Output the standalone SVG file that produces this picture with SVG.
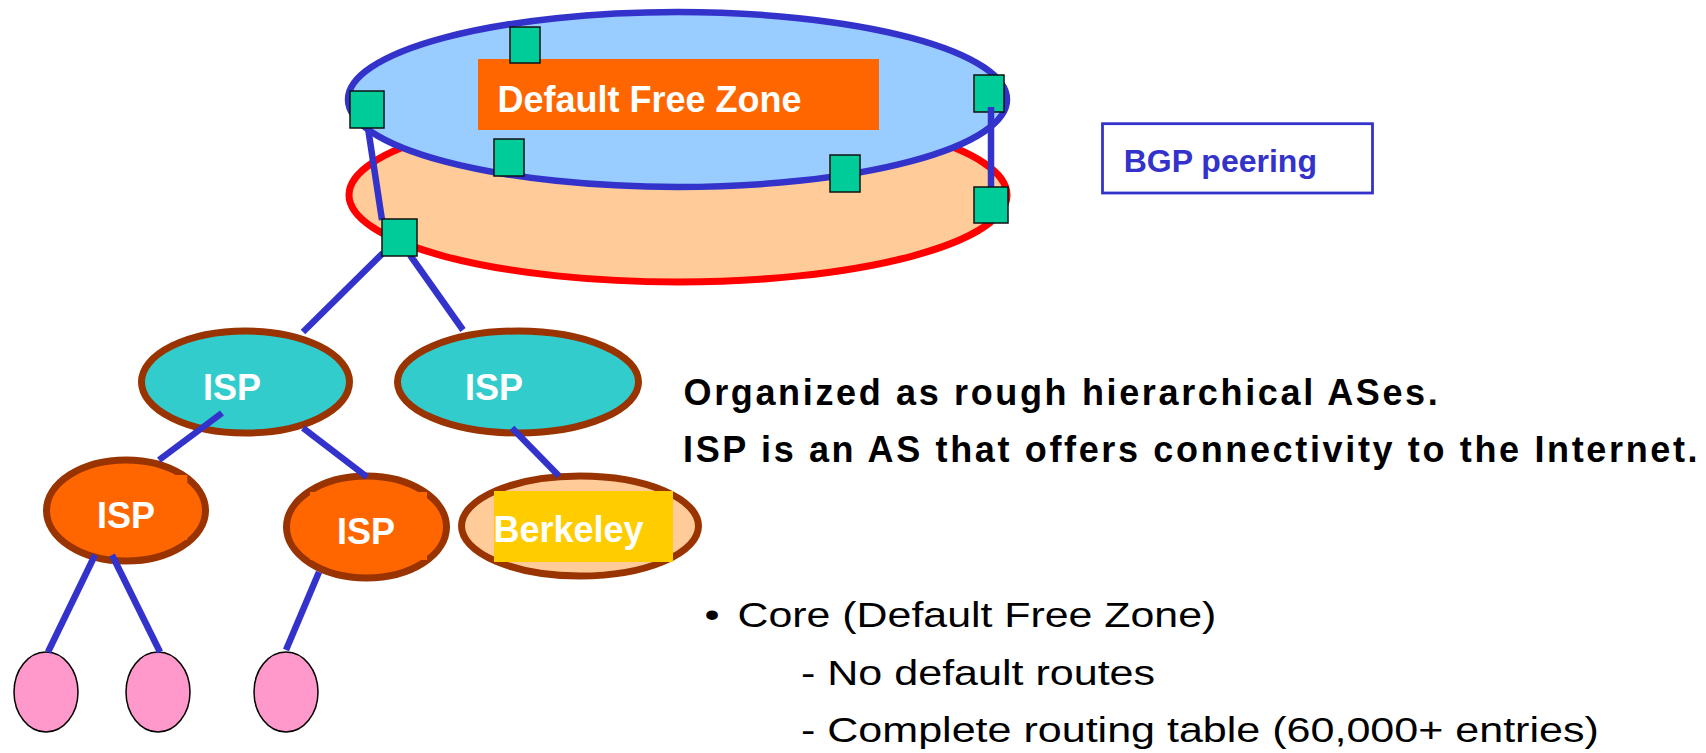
<svg xmlns="http://www.w3.org/2000/svg" width="1706" height="753" viewBox="0 0 1706 753">
  <style>
    .router { fill: #00CC99; stroke: #111111; stroke-width: 1.5; }
    .link { stroke: #3333CC; stroke-width: 6.5; stroke-linecap: butt; fill: none; }
    .as { stroke: #993300; stroke-width: 7; }
    .host { fill: #FF99CC; stroke: #000000; stroke-width: 1.5; }
    .label { font-family: "Liberation Sans", Arial, sans-serif; font-weight: bold; font-size: 36px; fill: #FFFFFF; }
    .note { font-family: "Liberation Sans", Arial, sans-serif; font-weight: bold; font-size: 36px; fill: #000000; letter-spacing: 2.65px; }
    .bullet { font-family: "Liberation Sans", Arial, sans-serif; font-size: 35px; fill: #000000; }
  </style>
  <rect width="1706" height="753" fill="#FFFFFF"/>

  <!-- core: two stacked rings forming the default free zone -->
  <g id="core">
    <ellipse cx="678" cy="195" rx="329" ry="87" fill="#FFCC99" stroke="#FF0000" stroke-width="7"/>
    <ellipse cx="677.5" cy="99.5" rx="329.5" ry="87.5" fill="#99CCFF" stroke="#3333CC" stroke-width="6.5"/>
  </g>
  <g id="dfz-label">
    <rect x="478" y="59" width="401" height="71" fill="#FF6600"/>
    <text class="label" x="497.5" y="112">Default Free Zone</text>
  </g>

  <!-- legend -->
  <g id="legend">
    <rect x="1102.5" y="123.7" width="270" height="69.3" fill="#FFFFFF" stroke="#3333CC" stroke-width="2.8"/>
    <text x="1123.7" y="171.7" font-family="Liberation Sans, Arial, sans-serif" font-weight="bold" font-size="32" fill="#3333CC">BGP peering</text>
  </g>

  <!-- autonomous systems -->
  <g id="isp-a">
    <ellipse class="as" cx="245.5" cy="382" rx="104" ry="51" fill="#33CCCC"/>
    <text class="label" x="203" y="400">ISP</text>
  </g>
  <g id="isp-b">
    <ellipse class="as" cx="518" cy="382" rx="120.5" ry="51" fill="#33CCCC"/>
    <text class="label" x="465" y="400">ISP</text>
  </g>
  <g id="isp-c">
    <ellipse class="as" cx="126" cy="510.5" rx="79.5" ry="50.5" fill="#FF6600"/>
    <rect x="90" y="475" width="97.3" height="65" fill="#FF6600"/>
    <text class="label" x="97" y="528">ISP</text>
  </g>
  <g id="isp-d">
    <ellipse class="as" cx="366.5" cy="527" rx="80" ry="51" fill="#FF6600"/>
    <rect x="310" y="492" width="117" height="68" fill="#FF6600"/>
    <text class="label" x="337" y="544">ISP</text>
  </g>
  <g id="berkeley">
    <ellipse class="as" cx="580" cy="526" rx="118.5" ry="50" fill="#FFCC99"/>
    <rect x="494" y="491" width="179" height="71" fill="#FFCC00"/>
    <text class="label" x="493.5" y="542">Berkeley</text>
  </g>

  <!-- stub networks -->
  <g id="host-1"><ellipse class="host" cx="46" cy="692" rx="32" ry="40"/></g>
  <g id="host-2"><ellipse class="host" cx="158" cy="692" rx="32" ry="40"/></g>
  <g id="host-3"><ellipse class="host" cx="286" cy="692" rx="32" ry="40"/></g>

  <!-- border router sitting under the peering link -->
  <g id="router-e"><rect class="router" x="974" y="75" width="30" height="37"/></g>

  <!-- links -->
  <g id="connectors">
    <line class="link" x1="368" y1="128" x2="382" y2="220" stroke-width="6"/>
    <line class="link" x1="991" y1="107" x2="991" y2="188" stroke-width="8"/>
    <line class="link" x1="383" y1="253" x2="303" y2="332"/>
    <line class="link" x1="410" y1="255" x2="463" y2="330"/>
    <line class="link" x1="222" y1="413" x2="159" y2="460"/>
    <line class="link" x1="303" y1="428" x2="367" y2="477"/>
    <line class="link" x1="512" y1="428" x2="559" y2="476"/>
    <line class="link" x1="95" y1="555" x2="48" y2="652"/>
    <line class="link" x1="112" y1="555" x2="160" y2="652"/>
    <line class="link" x1="319" y1="572" x2="286" y2="650"/>
  </g>

  <!-- border routers -->
  <g id="router-a"><rect class="router" x="510" y="27" width="30" height="36"/></g>
  <g id="router-b"><rect class="router" x="350" y="91" width="34" height="37"/></g>
  <g id="router-c"><rect class="router" x="494" y="139" width="30" height="37"/></g>
  <g id="router-d"><rect class="router" x="382" y="219" width="35" height="37"/></g>
  <g id="router-f"><rect class="router" x="830" y="155" width="30" height="37"/></g>
  <g id="router-g"><rect class="router" x="974" y="187" width="34" height="36"/></g>

  <!-- notes -->
  <g id="notes">
    <text class="note" x="683.5" y="405">Organized as rough hierarchical ASes.</text>
    <text class="note" x="683" y="462">ISP is an AS that offers connectivity to the Internet.</text>
    <text x="712" y="627" text-anchor="middle" font-family="Liberation Sans, Arial, sans-serif" font-size="35" fill="#000000" transform="translate(712,0) scale(1.23,1) translate(-712,0)">•</text>
    <text class="bullet" transform="translate(737.5,627) scale(1.225,1)">Core (Default Free Zone)</text>
    <text class="bullet" transform="translate(801,685) scale(1.23,1)">- No default routes</text>
    <text class="bullet" transform="translate(801,742) scale(1.23,1)">- Complete routing table (60,000+ entries)</text>
  </g>
</svg>
